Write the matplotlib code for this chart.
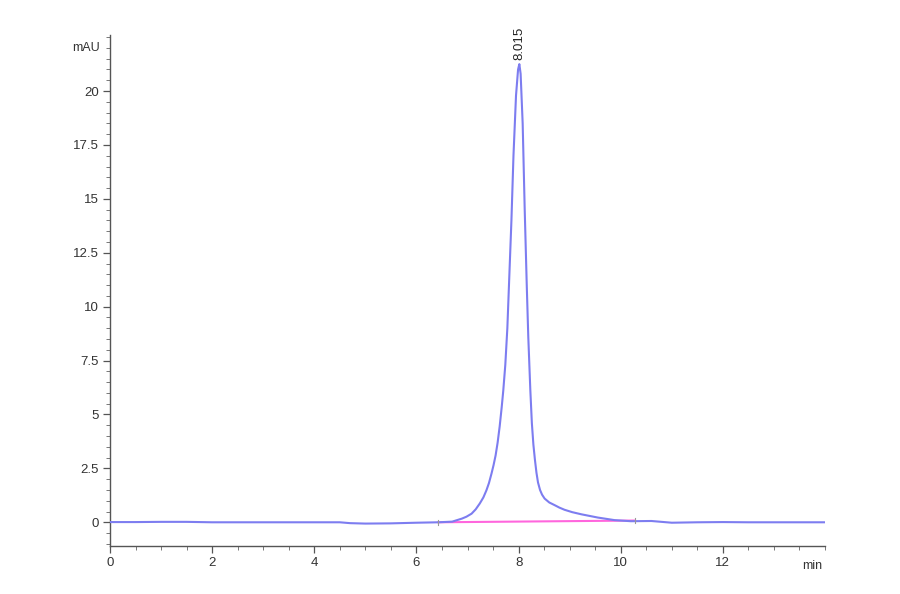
import matplotlib
matplotlib.use('Agg')
import matplotlib.pyplot as plt
from matplotlib.ticker import MultipleLocator, FormatStrFormatter

# chromatogram trace (min, mAU)
t = [0.0, 0.5, 1.0, 1.5, 2.0, 3.0, 4.0, 4.5, 4.7, 5.0, 5.5, 6.0, 6.43, 6.7,
     6.89, 6.98, 7.08, 7.16, 7.24, 7.31, 7.37, 7.42, 7.47, 7.51, 7.55, 7.59,
     7.63, 7.67, 7.70, 7.74, 7.78, 7.82, 7.86, 7.90, 7.95, 7.99, 8.015, 8.04,
     8.08, 8.12, 8.16, 8.19, 8.23, 8.26, 8.29, 8.32, 8.35, 8.38, 8.42, 8.46,
     8.51, 8.60, 8.71, 8.80, 8.90, 9.05, 9.23, 9.55, 9.88, 10.2, 10.6, 11.0,
     11.5, 12.0, 12.5, 13.0, 13.5, 14.0]
mau = [0.01, 0.01, 0.02, 0.02, 0.0, 0.0, 0.0, 0.0, -0.04, -0.06, -0.05, -0.02,
       0.0, 0.03, 0.17, 0.26, 0.4, 0.6, 0.87, 1.15, 1.48, 1.82, 2.26, 2.65, 3.1,
       3.7, 4.45, 5.35, 6.1, 7.3, 9.0, 11.5, 14.0, 17.0, 19.8, 21.0, 21.25,
       20.8, 18.5, 14.5, 11.0, 8.6, 6.13, 4.6, 3.6, 2.9, 2.3, 1.85, 1.5, 1.28,
       1.1, 0.92, 0.79, 0.68, 0.58, 0.47, 0.37, 0.22, 0.1, 0.05, 0.06, -0.02,
       0.0, 0.01, 0.0, 0.0, 0.0, 0.0]

# integration baseline
base_t = [6.43, 10.27]
base_y = [0.0, 0.08]

peak_rt = 8.015
peak_h = 21.25

plt.rcParams['font.family'] = ['Liberation Sans', 'DejaVu Sans']

fig = plt.figure(figsize=(9, 5.94), dpi=100)
ax = fig.add_axes([0.1222, 0.0808, 0.7945, 0.8603])

ax.plot(base_t, base_y, color='#ff66dd', lw=1.5, zorder=2)
ax.plot(t, mau, color='#7d7df0', lw=1.5, zorder=3, solid_joinstyle='round')
# start/stop markers on baseline
for bt, by in zip(base_t, base_y):
    ax.plot([bt, bt], [by - 0.12, by + 0.12], color='#999999', lw=0.8, zorder=4)

ax.text(peak_rt, peak_h + 0.2, '%.3f' % peak_rt, rotation=90, ha='center',
        va='bottom', fontsize=9.5, color='#222222')

ax.set_xlim(0, 14)
ax.set_ylim(-1.1, 22.6)

ax.xaxis.set_minor_locator(MultipleLocator(0.5))
ax.yaxis.set_minor_locator(MultipleLocator(0.5))
ax.yaxis.set_major_formatter(FormatStrFormatter('%g'))

ax.set_xticks([0, 2, 4, 6, 8, 10, 12])
ax.set_yticks([0, 2.5, 5, 7.5, 10, 12.5, 15, 17.5, 20])

for s in ['top', 'right']:
    ax.spines[s].set_visible(False)
for s in ['left', 'bottom']:
    ax.spines[s].set_color('#555555')
    ax.spines[s].set_linewidth(1.0)

ax.tick_params(which='major', direction='out', length=5, width=0.9,
               color='#555555', labelsize=9.5, labelcolor='#333333', pad=3)
ax.tick_params(which='minor', direction='out', length=3, width=0.7,
               color='#777777')

ax.text(-0.2, 22.0, 'mAU', ha='right', va='center', fontsize=9,
        color='#333333')
ax.text(13.75, -2.05, 'min', ha='center', va='center', fontsize=9,
        color='#333333')

fig.savefig('out.png', dpi=100)
